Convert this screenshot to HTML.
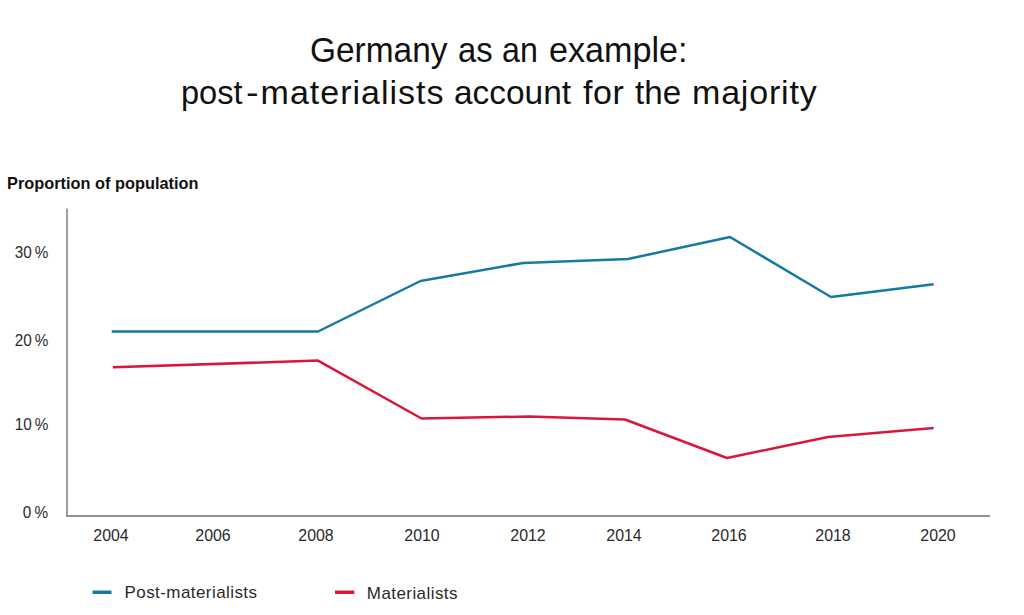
<!DOCTYPE html>
<html><head><meta charset="utf-8">
<style>
html,body{margin:0;padding:0;background:#fff;width:1024px;height:615px;overflow:hidden;}
body{position:relative;font-family:"Liberation Sans",sans-serif;color:#222;}
.t{position:absolute;white-space:nowrap;line-height:1;transform-origin:0 0;}
.w1{position:absolute;white-space:nowrap;line-height:1;transform-origin:0 0;top:32.4px;font-size:35px;color:#111;}
.w2{position:absolute;white-space:nowrap;line-height:1;transform-origin:0 0;top:75px;font-size:34px;color:#111;}
#ylab{left:7.34px;top:174.8px;font-size:17px;font-weight:bold;color:#111;transform:scaleX(.961);}
.yl{position:absolute;white-space:nowrap;line-height:1;font-size:17px;color:#2a2a2a;text-align:right;right:975.7px;transform-origin:100% 0;transform:scaleX(.9);word-spacing:-1.3px;}
.xl{position:absolute;white-space:nowrap;line-height:1;font-size:17px;color:#2a2a2a;top:526.67px;width:60px;text-align:center;margin-left:-30px;transform-origin:50% 0;transform:scaleX(.935);}
.lg{position:absolute;white-space:nowrap;line-height:1;font-size:17px;color:#2a2a2a;letter-spacing:.43px;}
svg{position:absolute;left:0;top:0;}
</style></head><body>
<div class="w1" style="left:310.2px;transform:scaleX(.955)">Germany</div>
<div class="w1" style="left:458.3px;transform:scaleX(.937)">as</div>
<div class="w1" style="left:501.78px;transform:scaleX(.919)">an</div>
<div class="w1" style="left:548.52px;transform:scaleX(.975)">example:</div>
<div class="w2" style="left:181.08px;transform:scaleX(.958)">post</div>
<div class="w2" style="left:246.19px;transform:scaleX(1.111)">-</div>
<div class="w2" style="left:260.6px;letter-spacing:1px">materialists</div>
<div class="w2" style="left:453.72px;transform:scaleX(.983)">account</div>
<div class="w2" style="left:583px;letter-spacing:.62px">for</div>
<div class="w2" style="left:634.5px;transform:scaleX(.977)">the</div>
<div class="w2" style="left:692px;letter-spacing:.81px">majority</div>
<div class="t" id="ylab">Proportion of population</div>
<div class="yl" style="top:244.0px">30 %</div>
<div class="yl" style="top:332.2px">20 %</div>
<div class="yl" style="top:416.3px">10 %</div>
<div class="yl" style="top:504.2px">0 %</div>
<div class="xl" style="left:111px">2004</div>
<div class="xl" style="left:213.4px">2006</div>
<div class="xl" style="left:316.4px">2008</div>
<div class="xl" style="left:422.3px">2010</div>
<div class="xl" style="left:528px">2012</div>
<div class="xl" style="left:623.9px">2014</div>
<div class="xl" style="left:728.5px">2016</div>
<div class="xl" style="left:833px">2018</div>
<div class="xl" style="left:937.5px">2020</div>
<div class="lg" style="left:124.5px;top:584.37px">Post-materialists</div>
<div class="lg" style="left:366.8px;top:585.17px">Materialists</div>
<svg width="1024" height="615" viewBox="0 0 1024 615">
<path d="M67 208.5 V515" fill="none" stroke="#9d9d9d" stroke-width="2"/>
<path d="M66 516 H990" fill="none" stroke="#919191" stroke-width="2"/>
<polyline fill="none" stroke="#157a9f" stroke-width="2.5" stroke-linejoin="round" points="111.7,331.5 318,331.5 420.5,281 523,263 628,259 730,237 831,297 933.6,284.2"/>
<polyline fill="none" stroke="#d8173b" stroke-width="2.5" stroke-linejoin="round" points="112.9,367.3 318,360.6 421.5,418.5 529,416.5 625,419.5 727,458 828,437 933.6,428.1"/>
<rect x="92.5" y="590.5" width="19" height="3.5" fill="#167b9f"/>
<rect x="335" y="590.5" width="19.3" height="3.5" fill="#d7193d"/>
</svg>
</body></html>
